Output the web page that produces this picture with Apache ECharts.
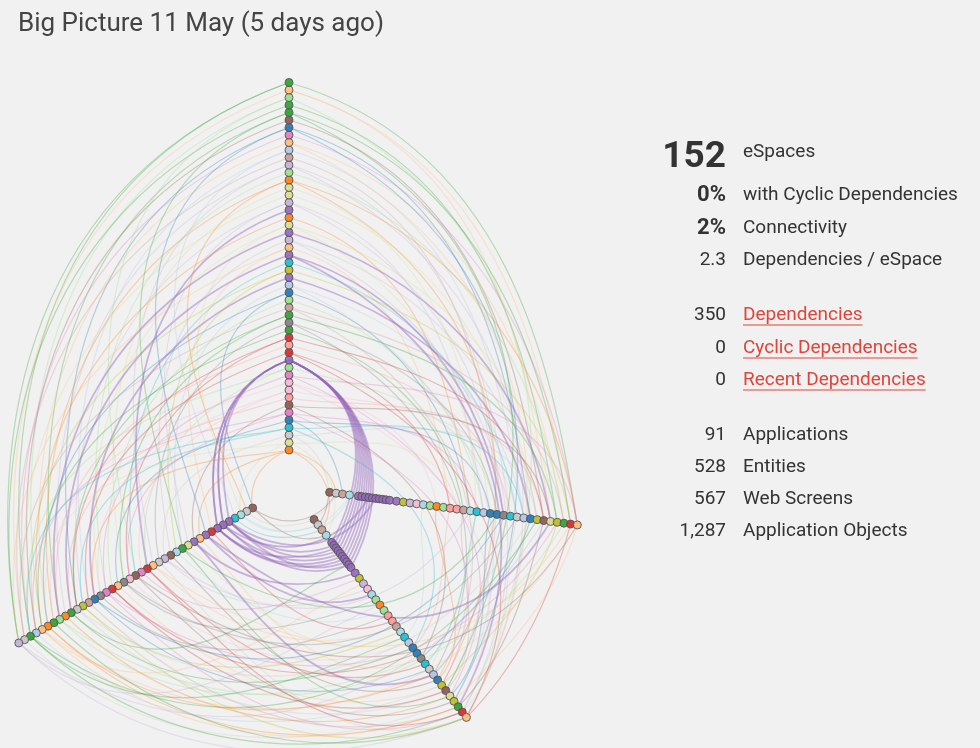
<!DOCTYPE html>
<html>
<head>
<meta charset="utf-8">
<title>Big Picture</title>
<script src="https://cdn.jsdelivr.net/npm/echarts@6/dist/echarts.min.js"></script>
<style>
  html, body { margin: 0; padding: 0; background: #f1f1f1; }
  #chart { width: 980px; height: 748px; }
</style>
</head>
<body>
<div id="chart"></div>
<script>
// d3 category20 palette, nodes refer to it by index
const palette = ['#1f77b4','#aec7e8','#ff7f0e','#ffbb78','#2ca02c','#98df8a','#d62728','#ff9896','#9467bd','#c5b0d5',
                 '#8c564b','#c49c94','#e377c2','#f7b6d2','#7f7f7f','#c7c7c7','#bcbd22','#dbdb8d','#17becf','#9edae5'];

// hive axes (angle in degrees, counter-clockwise from 3 o'clock)
const axisNames = ['top', 'bottomLeft', 'right', 'bottomRight'];
const axisAngles = [90, 210, 352.5, 307.6];

// top axis nodes, inner -> outer
const topColors = [2,17,15,18,0,12,10,7,13,13,12,5,8,6,7,6,4,14,4,11,5,0,1,8,16,18,8,3,9,8,17,2,8,9,17,17,2,5,9,11,1,3,12,0,10,4,4,5,3,4];
const topRadius = [37,44.5,52,59.5,67,74.5,82,89.5,97,104.5,112,119.5,127,134.5,142,149.5,157,164.5,172,179.5,
                   187,194.5,202,209.5,217,224.5,232,239.5,247,254.5,262,269.5,277,284.5,292,299.5,307,314.5,322,329.5,
                   337,344.5,352,359.5,367,374.5,382,389.5,397,404.5];

// bottom-left axis nodes, inner -> outer
const leftColors = [10,15,19,18,8,8,8,6,8,3,8,17,4,19,10,9,15,3,6,12,10,13,14,3,6,12,14,0,11,16,15,4,2,5,4,2,3,1,4,15,9];
const leftRadius = [42,48.8,55.5,62.3,69,75.8,82.5,89.3,96,102.8,109.5,116.3,123,129.8,136.5,143.3,150,156.8,163.5,170.3,
                    177,183.8,190.5,197.3,204,210.8,217.5,224.3,231,237.8,244.5,251.3,258,264.8,271.5,278.3,285,291.8,298.5,305.3,312];

// the right group is drawn twice (right and bottom-right axis), inner -> outer
const groupColors = [10,15,11,19,8,8,8,8,8,8,8,8,8,8,8,16,9,13,19,5,2,5,7,7,11,19,18,1,0,0,14,18,15,1,0,16,10,17,16,4,6,3];
const groupRadius = [41,47.5,54,61,70,73.5,77,80.5,84,87.5,91,94.5,98,101.5,108.5,115.3,122,128.8,135.5,142.3,
                     149,155.8,162.5,169.3,176,182.8,189.5,196.3,203,209.8,216.5,223.3,230,236.8,243.5,250.3,257,263.8,270.5,277.3,284,290.8];

// dependencies as [source index, target index]
const linksTopLeft = [[49,40],[49,38],[48,39],[47,36],[46,40],[45,33],[44,37],[43,30],[42,38],[41,35],[40,28],[39,39],[38,32],
  [37,25],[36,34],[35,22],[34,38],[33,29],[32,18],[31,36],[30,26],[29,33],[28,14],[27,40],[26,31],[25,20],[24,37],[23,27],
  [22,12],[21,35],[20,24],[19,39],[18,30],[17,16],[16,36],[15,21],[14,33],[13,28],[12,5],[12,6],[12,4],[12,5],[12,6],
  [11,38],[10,25],[9,34],[8,19],[7,31],[6,10],[5,37],[4,23],[3,29],[2,15],[1,35],[0,27],[0,9],[47,20],[45,12],[43,8],
  [40,3],[38,17],[36,1],[33,11],[30,2],[27,7],[24,13],[21,0],[18,22],[15,30],[11,18],[8,26],[5,21],[3,38],[0,0],[1,2]];
const linksTopRight = [[49,41],[48,40],[46,38],[44,36],[42,41],[40,33],[39,30],[37,39],[35,28],[34,35],[31,25],[29,37],
  [27,22],[25,32],[23,34],[20,27],[18,38],[16,24],[14,31],[11,29],[9,20],[7,36],[5,26],[3,33],[1,23],[2,0],[0,1],[4,2],
  [48,37],[45,40],[43,34],[41,39],[38,31],[36,41],[33,27],[30,38],[28,35],[26,30],[24,40],[22,33],[21,25],[19,39],
  [17,29],[15,36],[13,22],[10,41],[8,32],[6,37],[4,28],[2,35]];
const linksTopBottomRight = [[12,4],[12,5],[12,6],[12,7],[12,8],[12,9],[12,10],[12,11],[12,12],[12,13],
  [47,40],[43,38],[38,41],[33,36],[26,39],[19,34],[10,37],[6,30],[1,3],[0,2],
  [45,36],[41,41],[36,35],[30,32],[28,40],[22,38],[17,33],[13,41],[9,39],[5,35],[3,28]];
const linksLeftBottomRight = [[4,5],[5,8],[6,10],[4,7],[5,12],[6,6],[4,11],[6,9],[40,41],[39,38],[38,40],[37,35],[36,39],
  [35,33],[34,41],[33,30],[32,37],[31,28],[30,36],[29,25],[28,39],[27,32],[26,22],[25,40],[24,29],[23,35],[22,19],[21,27],
  [20,38],[19,15],[18,31],[17,24],[16,41],[15,17],[14,34],[13,21],[12,37],[11,26],[10,14],[9,30],[8,18],[7,23],[3,2],
  [2,1],[1,0],[0,3],[40,20],[36,16],[31,12],[38,26],[35,39],[29,41],[24,36],[18,40],[10,33]];
const linksRightBottomRight = [[41,38],[40,41],[38,35],[36,39],[34,30],[32,40],[30,33],[28,37],[26,31],[24,36],[22,28],
  [20,34],[18,26],[1,0],[0,1],[3,2]];
const linksLeftRight = [[38,35],[33,39],[27,30],[20,41],[15,25],[5,7],[4,9],
  [40,36],[36,41],[30,34],[25,38],[22,32],[17,40],[12,29],[8,37],[2,3],[0,1]];

// summary panel
const statValues = ['152', '0%', '2%', '2.3', '350', '0', '0', '91', '528', '567', '1,287'];
const statLabels = ['eSpaces', 'with Cyclic Dependencies', 'Connectivity', 'Dependencies / eSpace',
                    'Dependencies', 'Cyclic Dependencies', 'Recent Dependencies',
                    'Applications', 'Entities', 'Web Screens', 'Application Objects'];

// ---- build series data ----
const axisColors = [topColors, leftColors, groupColors, groupColors];
const axisRadius = [topRadius, leftRadius, groupRadius, groupRadius];

function nodeData(axis) {
  return axisRadius[axis].map((r, i) => ({
    value: [r, axisAngles[axis]],
    itemStyle: { color: palette[axisColors[axis][i]] }
  }));
}

function linkData(list, a, b) {
  return list.map(([i, j]) => [axisRadius[a][i], axisAngles[a], axisRadius[b][j], axisAngles[b], axisColors[a][i]]);
}

const allLinks = [].concat(
  linkData(linksTopLeft, 0, 1),
  linkData(linksTopRight, 0, 2),
  linkData(linksTopBottomRight, 0, 3),
  linkData(linksLeftBottomRight, 1, 3),
  linkData(linksRightBottomRight, 2, 3),
  linkData(linksLeftRight, 1, 2)
);

// hive link: cubic curve, control points at 1/3 and 2/3 of the angle,
// each one keeping the radius of its own end
function renderLink(params, api) {
  let s = { r: api.value(0), a: api.value(1) };
  let t = { r: api.value(2), a: api.value(3) };
  if (t.a < s.a) { const x = t; t = s; s = x; }
  if (t.a - s.a > 180) s.a += 360;
  const a1 = s.a + (t.a - s.a) / 3;
  const a2 = t.a - (t.a - s.a) / 3;
  const norm = a => ((a % 360) + 360) % 360;
  const p0 = api.coord([s.r, norm(s.a)]);
  const c1 = api.coord([s.r, norm(a1)]);
  const c2 = api.coord([t.r, norm(a2)]);
  const p3 = api.coord([t.r, norm(t.a)]);
  const colorIdx = api.value(4);
  const purple = colorIdx === 8;
  return {
    type: 'bezierCurve',
    shape: { x1: p0[0], y1: p0[1], cpx1: c1[0], cpy1: c1[1], cpx2: c2[0], cpy2: c2[1], x2: p3[0], y2: p3[1] },
    style: {
      fill: null,
      stroke: palette[colorIdx],
      lineWidth: purple ? 1.8 : 1.2,
      opacity: purple ? 0.45 : 0.3
    },
    silent: true
  };
}

const chart = echarts.init(document.getElementById('chart'));

// summary text rows
const rowY = [155, 195, 228, 260, 315, 348, 380, 435, 467, 499, 531];
const numX = 726, labelX = 743;
const linkRows = [4, 5, 6];
const labelFont = '19px Roboto';
const measure = document.createElement('canvas').getContext('2d');
measure.font = labelFont;
const graphics = [];
statValues.forEach((v, i) => {
  let font = labelFont;
  if (i === 0) font = 'bold 37px Roboto';
  else if (i === 1 || i === 2) font = 'bold 22px Roboto';
  graphics.push({
    type: 'text',
    style: { text: v, x: numX, y: i === 0 ? 158 : rowY[i], textAlign: 'right', textVerticalAlign: 'middle', font: font, fill: '#333' }
  });
  const isLink = linkRows.indexOf(i) >= 0;
  graphics.push({
    type: 'text',
    style: {
      text: statLabels[i], x: labelX, y: rowY[i] - (i === 0 ? 3 : 0),
      textAlign: 'left', textVerticalAlign: 'middle',
      font: labelFont,
      fill: isLink ? '#e0443a' : '#333'
    }
  });
  if (isLink) {
    const w = measure.measureText(statLabels[i]).width;
    graphics.push({
      type: 'line',
      shape: { x1: labelX, y1: rowY[i] + 10, x2: labelX + w, y2: rowY[i] + 10 },
      style: { stroke: '#e0443a', lineWidth: 1.2 }
    });
  }
});

chart.setOption({
  backgroundColor: '#f1f1f1',
  animation: false,
  title: {
    text: 'Big Picture 11 May (5 days ago)',
    left: 13,
    top: 6,
    textStyle: { fontFamily: 'Roboto', fontSize: 26, fontWeight: 'normal', color: '#444' }
  },
  polar: { center: [289, 487], radius: 410 },
  angleAxis: {
    type: 'value', min: 0, max: 360, startAngle: 0, clockwise: false,
    show: false, splitLine: { show: false }, axisLine: { show: false }
  },
  radiusAxis: {
    type: 'value', min: 0, max: 410,
    show: false, splitLine: { show: false }, axisLine: { show: false }
  },
  graphic: graphics,
  series: [
    {
      type: 'custom',
      coordinateSystem: 'polar',
      renderItem: renderLink,
      data: allLinks,
      z: 2,
      silent: true
    }
  ].concat([0, 1, 2, 3].map(axis => ({
    name: axisNames[axis],
    type: 'scatter',
    coordinateSystem: 'polar',
    symbolSize: 8,
    itemStyle: { borderColor: '#555', borderWidth: 1, opacity: 0.9 },
    data: nodeData(axis),
    z: 3
  })))
});
</script>
</body>
</html>
